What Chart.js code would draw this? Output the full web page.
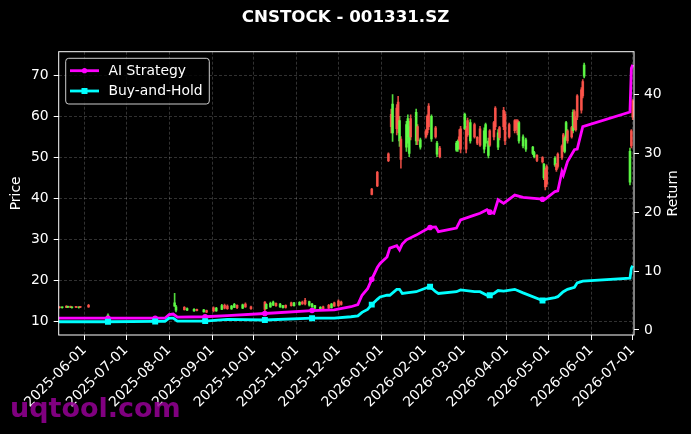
<!DOCTYPE html>
<html>
<head>
<meta charset="utf-8">
<script src="https://cdn.jsdelivr.net/npm/chart.js@4.4.0/dist/chart.umd.min.js"></script>
<style>
  html, body { margin: 0; padding: 0; background: #000; }
  #wrap { width: 691px; height: 434px; }
</style>
</head>
<body>
<div id="wrap"><canvas id="chart" width="691" height="434"></canvas></div>
<script>
// ---- data ----
const candleDates = [
  '2025-05-14','2025-05-16','2025-05-19','2025-05-20','2025-05-22','2025-05-23','2025-05-26','2025-05-28','2025-05-29','2025-06-04',
  '2025-06-18',
  '2025-08-05','2025-08-06','2025-08-12','2025-08-14','2025-08-19','2025-08-21','2025-08-26','2025-08-28',
  '2025-09-02','2025-09-04','2025-09-08','2025-09-10','2025-09-12','2025-09-15','2025-09-17','2025-09-19','2025-09-23','2025-09-25','2025-09-29',
  '2025-10-09','2025-10-10','2025-10-13','2025-10-15','2025-10-17','2025-10-20','2025-10-22','2025-10-24','2025-10-28','2025-10-30',
  '2025-11-03','2025-11-05','2025-11-07','2025-11-10','2025-11-12','2025-11-14','2025-11-18','2025-11-20','2025-11-24','2025-11-26','2025-11-28',
  '2025-12-01','2025-12-03','2025-12-25','2025-12-29',
  '2026-01-06','2026-01-08','2026-01-09','2026-01-12','2026-01-13','2026-01-14','2026-01-15','2026-01-19','2026-01-20','2026-01-21','2026-01-22','2026-01-26','2026-01-27','2026-01-29',
  '2026-02-02','2026-02-03','2026-02-04','2026-02-06','2026-02-09','2026-02-10','2026-02-12','2026-02-24','2026-02-25','2026-02-26','2026-02-27',
  '2026-03-02','2026-03-03','2026-03-04','2026-03-06','2026-03-09','2026-03-11','2026-03-13','2026-03-16','2026-03-17','2026-03-19','2026-03-20','2026-03-23','2026-03-24','2026-03-26','2026-03-27','2026-03-30','2026-03-31',
  '2026-04-03','2026-04-07','2026-04-08','2026-04-09','2026-04-10','2026-04-13','2026-04-15','2026-04-20','2026-04-21','2026-04-23','2026-04-27','2026-04-28','2026-04-29','2026-04-30',
  '2026-05-06','2026-05-07','2026-05-08','2026-05-11','2026-05-12','2026-05-13','2026-05-14','2026-05-15','2026-05-18','2026-05-19','2026-05-20','2026-05-21','2026-05-22','2026-05-25','2026-05-26','2026-05-27',
  '2026-06-29','2026-06-30','2026-07-01'
];
const opens = [
  13.6,13.4,13.7,13.5,13.6,13.4,13.6,13.4,13.6,14.0,
  11.0,
  13.8,12.8,13.5,12.8,12.6,13.0,12.4,12.7,
  13.4,12.6,13.0,14.0,13.8,13.1,13.5,14.0,13.3,14.3,13.6,
  14.8,13.2,13.6,14.0,14.5,13.6,13.4,14.0,14.6,13.9,
  14.1,14.8,15.2,14.0,13.6,13.3,13.0,13.6,14.0,13.4,14.6,
  15.0,14.8,42.3,46.4,
  50.9,60.5,56.0,62.0,63.5,54.0,54.5,52.5,55.0,51.0,59.5,54.0,57.5,52.5,
  56.5,60.0,62.5,54.5,57.2,50.8,52.3,51.8,52.0,55.0,57.0,
  57.0,57.0,59.0,54.0,58.0,54.9,57.0,52.0,53.5,50.5,56.5,58.5,62.0,52.5,57.3,61.5,60.5,
  58.0,59.0,58.8,59.0,54.0,52.8,52.0,51.0,50.2,50.5,50.0,45.0,47.0,47.8,
  48.2,48.3,50.8,52.8,55.5,51.5,54.8,56.5,57.3,56.5,61.2,59.6,65.0,66.5,68.5,69.8,
  44.0,56.5,63.8
];
const highs = [
  13.7,13.6,13.9,13.8,13.8,13.6,13.7,13.6,13.7,14.2,
  11.9,
  16.9,14.0,13.7,13.4,13.2,13.1,13.0,12.8,
  13.6,13.5,14.2,14.3,14.1,14.0,14.5,14.1,14.3,14.6,13.8,
  14.9,14.4,14.8,15.0,14.6,14.5,14.0,14.1,14.8,14.7,
  14.9,15.0,15.7,15.0,14.5,14.0,13.7,13.8,14.2,14.5,14.8,
  15.3,15.0,42.5,46.6,
  51.1,61.8,65.3,62.9,64.9,60.0,55.1,58.8,60.4,58.8,60.4,61.8,58.0,54.7,
  56.8,60.4,63.1,60.4,57.6,53.9,52.7,53.9,54.3,56.8,57.6,
  60.8,57.6,59.6,59.2,58.4,55.1,57.6,57.2,58.4,54.7,56.8,58.8,62.4,56.8,57.6,62.2,61.2,
  58.4,59.2,59.2,59.2,58.8,55.5,54.7,52.7,51.5,50.7,50.2,48.6,47.4,48.2,
  50.2,48.6,51.1,53.1,55.9,55.1,58.8,56.8,57.6,61.6,61.6,60.0,65.3,67.0,69.0,73.0,
  52.3,56.8,64.1
];
const lows = [
  13.3,13.3,13.4,13.4,13.4,13.3,13.4,13.3,13.4,13.5,
  10.8,
  13.7,12.4,12.8,12.7,12.5,12.6,12.3,12.2,
  12.4,12.5,12.9,13.1,13.0,13.0,13.4,13.2,13.2,13.5,13.0,
  12.6,13.1,13.5,13.9,13.7,13.5,13.3,13.3,13.8,13.8,
  14.0,14.2,14.1,13.8,13.5,13.1,12.8,13.0,13.2,13.3,13.7,
  13.7,14.0,40.9,42.9,
  49.0,56.0,53.9,55.5,56.0,52.7,47.4,51.5,53.5,50.2,54.3,53.1,53.1,52.0,
  54.7,55.5,56.8,53.9,54.7,50.2,49.9,51.5,51.5,52.0,51.1,
  56.8,51.1,55.1,53.5,54.7,53.1,52.7,51.1,52.7,49.9,52.7,54.3,56.8,51.9,54.3,56.8,53.1,
  54.7,56.0,56.8,55.5,53.5,52.3,51.5,50.7,49.9,49.0,48.6,44.6,42.1,42.9,
  47.8,46.6,47.4,49.5,51.5,51.1,54.3,53.5,54.7,56.0,56.8,56.4,59.2,60.8,64.5,69.4,
  43.3,52.3,59.2
];
const closes = [
  13.4,13.5,13.5,13.7,13.5,13.5,13.5,13.5,13.5,13.6,
  11.6,
  14.6,13.6,12.9,13.2,13.0,12.7,12.9,12.3,
  12.6,13.3,13.9,13.3,13.2,13.8,14.2,13.4,14.1,13.6,13.2,
  13.0,14.2,14.5,14.8,13.9,14.3,13.9,13.5,13.9,14.6,
  14.7,14.3,14.3,14.9,14.3,13.9,13.5,13.2,13.3,14.3,13.8,
  13.9,14.2,41.0,43.1,
  49.2,57.5,63.0,57.0,58.0,59.0,49.5,58.0,59.5,57.5,55.0,61.0,54.0,54.3,
  55.0,56.0,57.5,60.0,55.0,53.5,50.2,53.5,54.0,54.0,52.0,
  60.5,52.0,55.5,58.5,55.0,53.5,53.0,56.5,58.0,54.0,53.0,55.0,57.5,56.0,54.8,57.5,54.0,
  55.0,56.5,57.2,56.0,58.5,55.0,54.3,52.5,51.2,49.3,48.9,48.3,42.8,43.5,
  49.8,47.0,47.8,50.0,52.0,54.8,58.5,54.0,55.0,61.0,57.3,56.8,59.8,61.5,65.0,72.5,
  51.5,52.8,59.8
];

const lineDates = [
  '2025-05-13','2025-06-18','2025-07-22','2025-07-29','2025-08-01','2025-08-04','2025-08-07','2025-08-27','2025-09-12','2025-10-09',
  '2025-11-12','2025-11-28','2025-12-10','2025-12-15','2025-12-18','2025-12-22','2025-12-25','2025-12-29','2025-12-31',
  '2026-01-05','2026-01-07','2026-01-12','2026-01-14','2026-01-16','2026-01-19','2026-01-26',
  '2026-02-04','2026-02-05','2026-02-09','2026-02-11','2026-02-24','2026-02-27',
  '2026-03-09','2026-03-13','2026-03-18','2026-03-20','2026-03-23','2026-03-26','2026-03-30',
  '2026-04-07','2026-04-13','2026-04-27','2026-04-29',
  '2026-05-06','2026-05-08','2026-05-11','2026-05-12','2026-05-15','2026-05-20','2026-05-22','2026-05-26',
  '2026-06-29','2026-06-30','2026-07-01'
];
const aiReturn = [
  2.0,2.0,2.0,2.0,2.6,2.7,2.2,2.25,2.45,2.8,
  3.3,3.4,3.95,4.3,5.9,7.0,8.6,10.6,11.3,
  12.4,13.9,14.3,13.6,14.6,15.3,16.1,
  17.3,17.4,17.5,16.7,17.3,18.7,
  19.5,19.8,20.4,20.0,19.8,22.1,21.5,
  22.9,22.5,22.2,22.2,
  23.5,23.6,26.9,26.3,28.6,30.6,30.7,34.5,
  37.0,44.4,45.0
];
const bhReturn = [
  1.4,1.4,1.45,1.45,2.0,2.0,1.5,1.5,1.8,1.7,
  2.0,2.0,2.25,2.4,3.0,3.5,4.3,5.2,5.6,
  5.9,5.9,6.9,6.9,6.2,6.3,6.5,
  7.3,7.35,6.5,6.2,6.5,6.8,
  6.5,6.5,5.9,5.9,6.2,6.7,6.6,
  6.9,6.3,5.0,5.2,
  5.5,5.65,6.3,6.5,6.9,7.25,8.0,8.3,
  8.8,10.5,10.9
];
const markerDates = ['2025-06-18','2025-07-22','2025-08-27','2025-10-09','2025-11-12','2025-12-25','2026-02-05','2026-03-20','2026-04-27'];

const xTickLabels = ['2025-06-01','2025-07-01','2025-08-01','2025-09-01','2025-10-01','2025-11-01','2025-12-01',
  '2026-01-01','2026-02-01','2026-03-01','2026-04-01','2026-05-01','2026-06-01','2026-07-01'];
const priceTicks = [10, 20, 30, 40, 50, 60, 70];
const returnTicks = [0, 10, 20, 30, 40];

// ---- helpers / styles ----
const FONT = "'DejaVu Sans', sans-serif";
const UP = 'rgba(95, 255, 70, 0.85)';
const DOWN = 'rgba(255, 85, 75, 0.85)';
const GRID = 'rgba(255, 255, 255, 0.28)';
const AI_COLOR = '#ff00ff';
const BH_COLOR = '#00ffff';

const DAY0 = Date.UTC(2025, 5, 1);
function dayOf(s) {
  const [y, m, d] = s.split('-').map(Number);
  return (Date.UTC(y, m - 1, d) - DAY0) / 86400000;
}

const candleColors = opens.map((o, i) => closes[i] >= o ? UP : DOWN);
const wickData = candleDates.map((d, i) => ({ x: dayOf(d), y: [lows[i], highs[i]] }));
const bodyData = candleDates.map((d, i) => ({ x: dayOf(d), y: [opens[i], closes[i]] }));
const aiData = lineDates.map((d, i) => ({ x: dayOf(d), y: aiReturn[i] }));
const bhData = lineDates.map((d, i) => ({ x: dayOf(d), y: bhReturn[i] }));
const markerSet = new Set(markerDates);
const tickNames = {};
xTickLabels.forEach(t => { tickNames[dayOf(t)] = t; });

const bgPlugin = {
  id: 'bg',
  beforeDraw(chart) {
    const c = chart.ctx;
    c.save();
    c.fillStyle = '#000';
    c.fillRect(0, 0, chart.width, chart.height);
    c.restore();
  }
};

const framePlugin = {
  id: 'frame',
  afterDraw(chart) {
    const c = chart.ctx;
    const a = chart.chartArea;
    c.save();
    // plot frame
    c.strokeStyle = '#ffffff';
    c.lineWidth = 1;
    c.strokeRect(a.left, a.top, a.right - a.left, a.bottom - a.top);

    // right axis title, reading upwards like the left one
    c.font = '13.9px ' + FONT;
    c.fillStyle = '#ffffff';
    c.textAlign = 'center';
    c.textBaseline = 'middle';
    c.translate(673.3, (a.top + a.bottom) / 2);
    c.rotate(-Math.PI / 2);
    c.fillText('Return', 0, 0);
    c.setTransform(1, 0, 0, 1, 0, 0);

    // legend box
    const lx = 65.7, ly = 58.3, lw = 143.6, lh = 45.7;
    c.fillStyle = 'rgba(0,0,0,0.8)';
    c.strokeStyle = '#cccccc';
    c.beginPath();
    c.roundRect(lx, ly, lw, lh, 3);
    c.fill();
    c.stroke();

    const rows = [
      { label: chart.data.datasets[0].label, color: AI_COLOR, y: 70.7, square: false },
      { label: chart.data.datasets[1].label, color: BH_COLOR, y: 91, square: true }
    ];
    c.textBaseline = 'middle';
    c.textAlign = 'left';
    rows.forEach(r => {
      c.strokeStyle = r.color;
      c.lineWidth = 2.8;
      c.beginPath();
      c.moveTo(70, r.y);
      c.lineTo(99, r.y);
      c.stroke();
      c.fillStyle = r.color;
      if (r.square) {
        c.fillRect(81.5, r.y - 3, 6, 6);
      } else {
        c.beginPath();
        c.arc(84.5, r.y, 2.6, 0, Math.PI * 2);
        c.fill();
      }
      c.fillStyle = '#ffffff';
      c.fillText(r.label, 108.5, r.y + 0.5);
    });

    // watermark
    c.font = 'bold 27px ' + FONT;
    c.textBaseline = 'alphabetic';
    c.fillStyle = 'rgba(150, 0, 150, 0.85)';
    c.fillText('uqtool.com', 10, 416.7);
    c.restore();
  }
};

const tickFont = { size: 13.9, family: FONT };

new Chart(document.getElementById('chart'), {
  type: 'bar',
  data: {
    datasets: [
      {
        type: 'line', label: 'AI Strategy', data: aiData, yAxisID: 'yRet', order: 1,
        borderColor: AI_COLOR, backgroundColor: AI_COLOR, borderWidth: 2.8, tension: 0,
        pointStyle: 'circle',
        pointRadius: ctx => markerSet.has(lineDates[ctx.dataIndex]) ? 2.8 : 0,
        pointBorderWidth: 0, pointBackgroundColor: AI_COLOR
      },
      {
        type: 'line', label: 'Buy-and-Hold', data: bhData, yAxisID: 'yRet', order: 0,
        borderColor: BH_COLOR, backgroundColor: BH_COLOR, borderWidth: 2.8, tension: 0,
        pointStyle: 'rect',
        pointRadius: ctx => markerSet.has(lineDates[ctx.dataIndex]) ? 4.2 : 0,
        pointBorderWidth: 0, pointBackgroundColor: BH_COLOR
      },
      {
        label: 'wick', data: wickData, yAxisID: 'yPrice', order: 3,
        backgroundColor: candleColors, barThickness: 1, grouped: false, borderWidth: 0
      },
      {
        label: 'body', data: bodyData, yAxisID: 'yPrice', order: 2,
        backgroundColor: candleColors, barThickness: 2, grouped: false, borderWidth: 0, minBarLength: 1
      }
    ]
  },
  options: {
    responsive: false,
    animation: false,
    devicePixelRatio: 1,
    layout: { padding: 0 },
    plugins: {
      legend: { display: false },
      tooltip: { enabled: false },
      title: {
        display: true, text: 'CNSTOCK - 001331.SZ', color: '#ffffff',
        font: { size: 16.7, weight: 'bold', family: FONT },
        padding: { top: 8, bottom: 23.66 }
      }
    },
    scales: {
      x: {
        type: 'linear', min: -18.5, max: 395.9, offset: false,
        afterBuildTicks: s => { s.ticks = xTickLabels.map(t => ({ value: dayOf(t) })); },
        afterFit: s => { s.height = 99; },
        ticks: {
          color: '#ffffff', font: tickFont, autoSkip: false,
          maxRotation: 45, minRotation: 45, padding: 2,
          callback: v => tickNames[v] || ''
        },
        grid: { color: GRID, lineWidth: 0.7, offset: false, tickColor: '#ffffff', tickLength: 5, tickWidth: 1 },
        border: { display: false, dash: [3, 2] }
      },
      yPrice: {
        type: 'linear', position: 'left', min: 6.76, max: 75.76,
        afterBuildTicks: s => { s.ticks = priceTicks.map(v => ({ value: v })); },
        afterFit: s => { s.width = 58.7; },
        ticks: { color: '#ffffff', font: tickFont, padding: 5 },
        grid: { color: GRID, lineWidth: 0.7, tickColor: '#ffffff', tickLength: 5, tickWidth: 1 },
        border: { display: false, dash: [3, 2] },
        title: { display: true, text: 'Price', color: '#ffffff', font: tickFont, padding: { top: 8, bottom: 0 } }
      },
      yRet: {
        type: 'linear', position: 'right', min: -0.85, max: 47.23,
        afterBuildTicks: s => { s.ticks = returnTicks.map(v => ({ value: v })); },
        afterFit: s => { s.width = 57; },
        ticks: { color: '#ffffff', font: tickFont, padding: 5 },
        grid: { drawOnChartArea: false, tickColor: '#ffffff', tickLength: 5, tickWidth: 1 },
        border: { display: false }
      }
    }
  },
  plugins: [bgPlugin, framePlugin]
});
</script>
</body>
</html>
